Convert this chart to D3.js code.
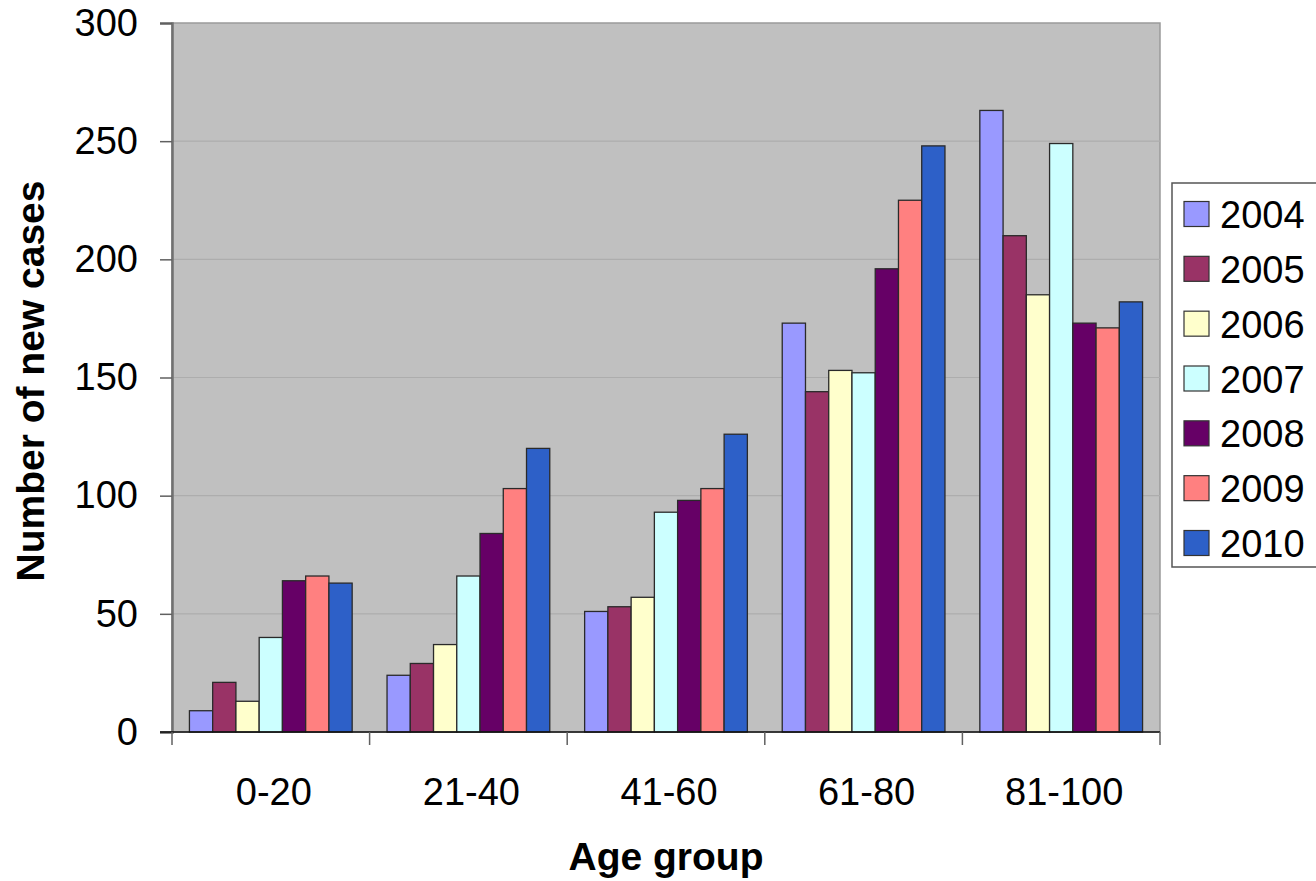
<!DOCTYPE html>
<html>
<head>
<meta charset="utf-8">
<script src="https://cdn.jsdelivr.net/npm/d3@7"></script>
<style>
  html, body { margin: 0; padding: 0; background: #fff; }
  svg { display: block; font-family: "Liberation Sans", Arial, sans-serif; }
</style>
</head>
<body>
<svg id="chart" width="1316" height="881"></svg>
<script>
// Age groups on the x axis
const ageGroups = ["0-20", "21-40", "41-60", "61-80", "81-100"];
// One series per year
const years = ["2004", "2005", "2006", "2007", "2008", "2009", "2010"];
const yearColors = ["#9999FF", "#993366", "#FFFFCC", "#CCFFFF", "#660066", "#FF8080", "#2D60C8"];
// New cases per year, one array per year, in age-group order
const cases2004 = [9, 24, 51, 173, 263];
const cases2005 = [21, 29, 53, 144, 210];
const cases2006 = [13, 37, 57, 153, 185];
const cases2007 = [40, 66, 93, 152, 249];
const cases2008 = [64, 84, 98, 196, 173];
const cases2009 = [66, 103, 103, 225, 171];
const cases2010 = [63, 120, 126, 248, 182];
const yTicks = [0, 50, 100, 150, 200, 250, 300];

const seriesValues = [cases2004, cases2005, cases2006, cases2007, cases2008, cases2009, cases2010];

const svg = d3.select("#chart");
const plot = { left: 172, right: 1160, top: 23, bottom: 732 };

const x0 = d3.scaleBand().domain(ageGroups).range([plot.left, plot.right]).paddingInner(0).paddingOuter(0);
// Bars fill 7/8.5 of each group (gap equal to 1.5 bar widths)
const x1 = d3.scaleBand().domain(years).range([0, x0.bandwidth()]).paddingInner(0)
  .paddingOuter(0.75);
const y = d3.scaleLinear().domain([0, 300]).range([plot.bottom, plot.top]);

// Plot background
svg.append("rect")
  .attr("x", plot.left).attr("y", plot.top)
  .attr("width", plot.right - plot.left).attr("height", plot.bottom - plot.top)
  .attr("fill", "#C0C0C0").attr("stroke", "#9a9a9a").attr("stroke-width", 1.5);

// Horizontal gridlines
svg.append("g").selectAll("line")
  .data(yTicks.filter(t => t > 0 && t < 300))
  .join("line")
  .attr("x1", plot.left).attr("x2", plot.right)
  .attr("y1", d => y(d)).attr("y2", d => y(d))
  .attr("stroke", "#adadad").attr("stroke-width", 1.2);

// Bars
const groups = svg.append("g").selectAll("g")
  .data(ageGroups)
  .join("g")
  .attr("transform", d => `translate(${x0(d)},0)`);

groups.selectAll("rect")
  .data((g, gi) => years.map((yr, si) => ({ year: yr, si, value: seriesValues[si][gi] })))
  .join("rect")
  .attr("x", d => x1(d.year))
  .attr("y", d => y(d.value))
  .attr("width", x1.bandwidth())
  .attr("height", d => y(0) - y(d.value))
  .attr("fill", d => yearColors[d.si])
  .attr("stroke", "#2a2a2a")
  .attr("stroke-width", 1.3);

// Y axis
const yAxis = d3.axisLeft(y).tickValues(yTicks).tickSize(12).tickPadding(22).tickFormat(d3.format("d"));
const gy = svg.append("g").attr("transform", `translate(${plot.left},0)`).call(yAxis);
gy.select(".domain").attr("stroke", "#707070").attr("stroke-width", 2.5);
gy.selectAll(".tick line").attr("stroke", "#606060").attr("stroke-width", 1.5);
gy.selectAll(".tick text").attr("font-size", 38).attr("fill", "#000")
  .attr("font-family", "'Liberation Sans', Arial, sans-serif");

// X axis: ticks at group boundaries, labels centred in each group
const gx = svg.append("g");
gx.append("line")
  .attr("x1", plot.left - 12).attr("x2", plot.right)
  .attr("y1", plot.bottom).attr("y2", plot.bottom)
  .attr("stroke", "#111").attr("stroke-width", 1.5);
const boundaries = ageGroups.map(g => x0(g)).concat([x0(ageGroups[ageGroups.length - 1]) + x0.bandwidth()]);
gx.selectAll("line.tick")
  .data(boundaries)
  .join("line")
  .attr("class", "tick")
  .attr("x1", d => d).attr("x2", d => d)
  .attr("y1", plot.bottom).attr("y2", plot.bottom + 13)
  .attr("stroke", "#606060").attr("stroke-width", 1.5);
gx.selectAll("text")
  .data(ageGroups)
  .join("text")
  .attr("x", d => x0(d) + x0.bandwidth() / 2 + 3)
  .attr("y", 805)
  .attr("text-anchor", "middle")
  .attr("font-size", 38)
  .text(d => d);

// Axis titles
svg.append("text")
  .attr("x", 666).attr("y", 870)
  .attr("text-anchor", "middle")
  .attr("font-size", 39).attr("font-weight", "bold")
  .text("Age group");
svg.append("text")
  .attr("transform", "translate(44,381) rotate(-90)")
  .attr("text-anchor", "middle")
  .attr("font-size", 39).attr("font-weight", "bold")
  .text("Number of new cases");

// Legend
const legend = svg.append("g");
legend.append("rect")
  .attr("x", 1172).attr("y", 183)
  .attr("width", 150).attr("height", 384)
  .attr("fill", "#fff").attr("stroke", "#555").attr("stroke-width", 1.5);
const rowY = d3.scalePoint().domain(years).range([214, 543]);
const items = legend.selectAll("g.item")
  .data(years)
  .join("g")
  .attr("class", "item")
  .attr("transform", d => `translate(0,${rowY(d)})`);
items.append("rect")
  .attr("x", 1184).attr("y", -12.5)
  .attr("width", 25).attr("height", 25)
  .attr("fill", (d, i) => yearColors[i])
  .attr("stroke", "#333").attr("stroke-width", 1.2);
items.append("text")
  .attr("x", 1220).attr("y", 14)
  .attr("font-size", 38)
  .text(d => d);
</script>
</body>
</html>
